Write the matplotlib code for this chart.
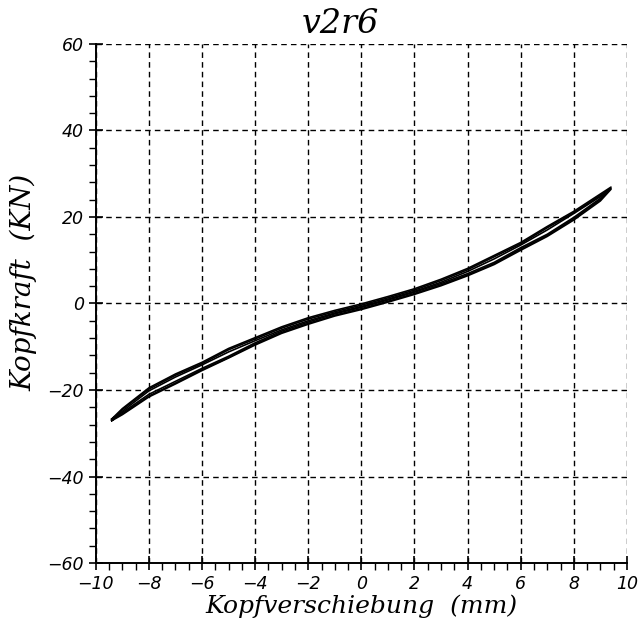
import matplotlib
matplotlib.use("Agg")
import matplotlib.pyplot as plt
from matplotlib.ticker import MultipleLocator

# displacement grid (mm) shared by all branches
X_MM = [-9.4, -9.0, -8.0, -7.0, -6.0, -5.0, -4.0, -3.0, -2.0, -1.0, 0.0,
        1.0, 2.0, 3.0, 4.0, 5.0, 6.0, 7.0, 8.0, 9.0, 9.4]

# force (kN) per cycle: lower branch and upper branch, same order as X_MM
CYCLE1_LOWER = [-26.9, -25.5, -21.4, -18.4, -15.3, -12.5, -9.4, -6.7, -4.6, -2.7, -1.2,
                0.5, 2.3, 4.3, 6.6, 9.2, 12.6, 15.7, 19.6, 24.0, 26.6]
CYCLE1_UPPER = [-26.9, -24.5, -19.8, -16.6, -13.9, -10.7, -8.2, -5.7, -3.6, -1.9, -0.4,
                1.3, 3.1, 5.3, 7.8, 10.8, 13.8, 17.5, 21.0, 25.0, 26.6]
CYCLE2_LOWER = [-27.1, -25.7, -21.6, -18.6, -15.5, -12.6, -9.6, -6.9, -4.8, -2.9, -1.4,
                0.3, 2.1, 4.1, 6.4, 9.0, 12.3, 15.5, 19.3, 23.7, 26.4]
CYCLE2_UPPER = [-27.1, -24.9, -20.2, -17.0, -14.2, -11.2, -8.6, -6.1, -4.0, -2.2, -0.7,
                1.0, 2.8, 4.9, 7.4, 10.3, 13.5, 17.0, 20.8, 24.7, 26.4]
CYCLE3_LOWER = [-26.7, -25.2, -21.0, -18.0, -15.0, -12.2, -9.1, -6.4, -4.3, -2.4, -0.9,
                0.8, 2.6, 4.6, 6.9, 9.5, 12.9, 16.0, 19.9, 24.3, 26.9]
CYCLE3_UPPER = [-26.7, -24.3, -19.5, -16.3, -13.6, -10.4, -7.9, -5.4, -3.3, -1.6, -0.1,
                1.6, 3.4, 5.6, 8.1, 11.1, 14.1, 17.8, 21.3, 25.3, 26.9]

CYCLES = [
    (CYCLE1_LOWER, CYCLE1_UPPER),
    (CYCLE2_LOWER, CYCLE2_UPPER),
    (CYCLE3_LOWER, CYCLE3_UPPER),
]

X_TICKS = [-10, -8, -6, -4, -2, 0, 2, 4, 6, 8, 10]
Y_TICKS = [-60, -40, -20, 0, 20, 40, 60]

TITLE = "v2r6"
XLABEL = "Kopfverschiebung  (mm)"
YLABEL = "Kopfkraft  (KN)"

fig = plt.figure(figsize=(6.43, 6.27), dpi=100)
ax = fig.add_axes([0.149, 0.102, 0.826, 0.828])

for lower, upper in CYCLES:
    xs = list(X_MM) + list(reversed(X_MM))
    ys = list(lower) + list(reversed(upper))
    ax.plot(xs, ys, color="black", linewidth=1.2, solid_joinstyle="round")

ax.set_xlim(-10, 10)
ax.set_ylim(-60, 60)
ax.set_xticks(X_TICKS)
ax.set_yticks(Y_TICKS)
ax.xaxis.set_minor_locator(MultipleLocator(0.5))
ax.yaxis.set_minor_locator(MultipleLocator(4))

tick_font = {"family": "DejaVu Sans", "style": "italic", "size": 12.5}
ax.set_xticklabels([str(v).replace("-", "\u2212") for v in X_TICKS], fontdict=tick_font)
ax.set_yticklabels([str(v).replace("-", "\u2212") for v in Y_TICKS], fontdict=tick_font)

ax.grid(True, which="major", color="black", linestyle=(0, (4, 3)), linewidth=1.0)
ax.set_axisbelow(True)

for side in ["top", "right"]:
    ax.spines[side].set_visible(False)
for side in ["left", "bottom"]:
    ax.spines[side].set_linewidth(1.4)

ax.tick_params(which="major", direction="inout", length=10, width=1.2)
ax.tick_params(which="minor", direction="out", length=5, width=1.0)

ax.set_xlabel(XLABEL, family="DejaVu Serif", style="italic", fontsize=18, labelpad=1)
ax.set_ylabel(YLABEL, family="DejaVu Serif", style="italic", fontsize=20)
ax.yaxis.set_label_coords(-0.11, 0.54)

fig.text(0.53, 0.962, TITLE, ha="center", va="center",
         family="DejaVu Serif", style="italic", fontsize=24)

fig.savefig("out.png", dpi=100)
